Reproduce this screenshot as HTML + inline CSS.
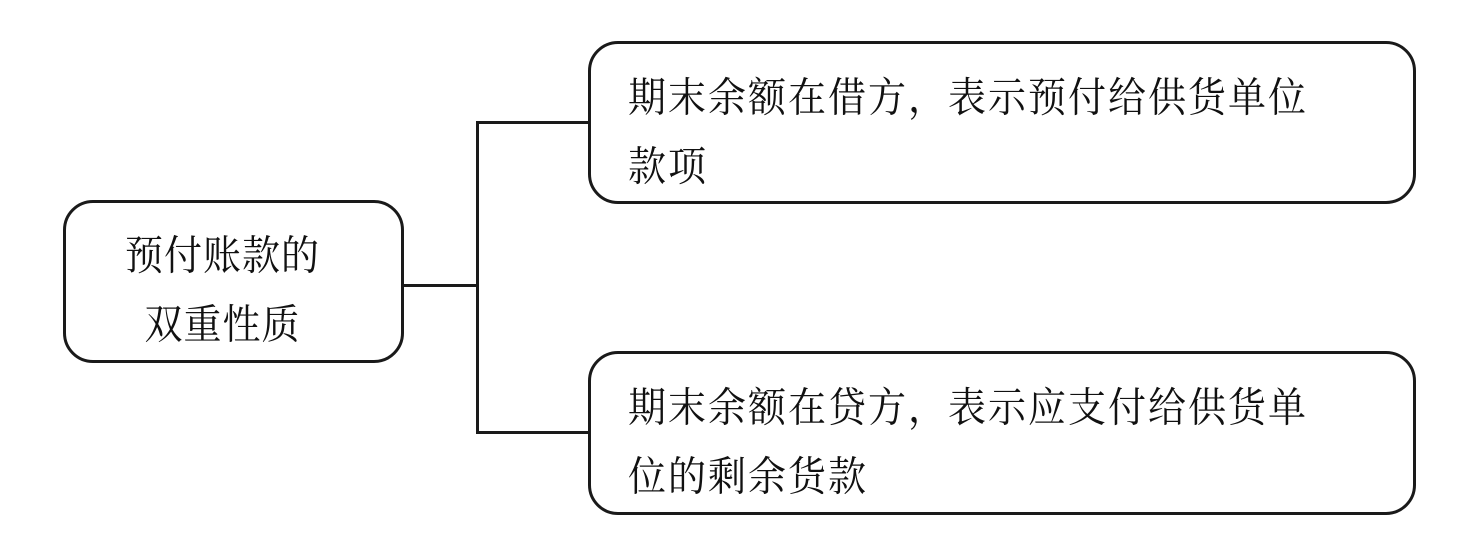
<!DOCTYPE html>
<html><head><meta charset="utf-8"><style>
body{margin:0;width:1471px;height:554px;background:#fff;position:relative;overflow:hidden;font-family:"Liberation Serif","Noto Serif CJK SC",serif;color:#111}
.b{position:absolute;border:3px solid #1a1a1a;border-radius:30px;box-sizing:border-box}
.l{position:absolute;background:#1a1a1a}
.t{position:absolute;font-size:38px;line-height:64px;white-space:nowrap;transform:scaleY(1.08)}
</style></head><body>
<div class="b" style="left:63px;top:200px;width:341px;height:163px"></div>
<div class="b" style="left:588px;top:41px;width:828px;height:163px"></div>
<div class="b" style="left:588px;top:351px;width:828px;height:164px"></div>
<div class="l" style="left:403px;top:284px;width:75px;height:3px"></div>
<div class="l" style="left:476px;top:121px;width:3px;height:313px"></div>
<div class="l" style="left:476px;top:121px;width:113px;height:3px"></div>
<div class="l" style="left:476px;top:431px;width:113px;height:3px"></div>
<div class="t" style="left:52px;width:341px;top:227px;text-align:center;letter-spacing:1px">预付账款的<br>双重性质</div>
<div class="t" style="left:628px;top:69px;letter-spacing:2px">期末余额在借方，表示预付给供货单位<br>款项</div>
<div class="t" style="left:628px;top:379px;letter-spacing:2px">期末余额在贷方，表示应支付给供货单<br>位的剩余货款</div>
</body></html>
